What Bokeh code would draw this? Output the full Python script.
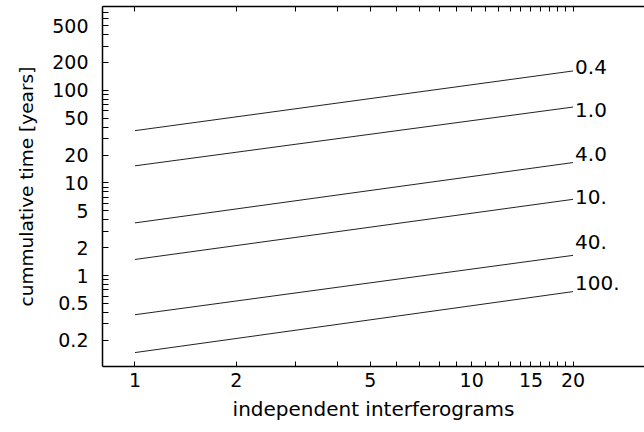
from bokeh.plotting import figure
from bokeh.models import LogAxis, FixedTicker, Range1d, LogScale, CustomLabelingPolicy
from bokeh.core.properties import value
from bokeh.embed import file_html
from bokeh.resources import INLINE

# ---- data ----
line_labels = ["0.4", "1.0", "4.0", "10.", "40.", "100."]
x_start = [1, 1, 1, 1, 1, 1]
x_end = [20, 20, 20, 20, 20, 20]
y_start = [36.7, 15.3, 3.7, 1.49, 0.377, 0.147]
y_end = [162, 66, 16.6, 6.65, 1.65, 0.67]
label_y = [178, 62, 20.6, 7.05, 2.28, 0.82]

x_ticks = [1, 2, 5, 10, 15, 20]
x_tick_labels = ["1", "2", "5", "10", "15", "20"]
x_minor = [3, 4, 6, 7, 8, 9, 11, 12, 13, 14, 16, 17, 18, 19]
y_ticks = [0.2, 0.5, 1, 2, 5, 10, 20, 50, 100, 200, 500]
y_tick_labels = ["0.2", "0.5", "1", "2", "5", "10", "20", "50", "100", "200", "500"]
y_minor = [0.3, 0.4, 0.6, 0.7, 0.8, 0.9, 3, 4, 6, 7, 8, 9, 30, 40, 60, 70, 80, 90,
           300, 400, 600, 700, 800, 900]

FONT = "DejaVu Sans"

p = figure(width=644, height=432, x_axis_type=None, y_axis_type=None,
           x_range=Range1d(0.801, 32.6), y_range=Range1d(0.104, 805),
           output_backend="svg", toolbar_location=None,
           min_border_left=102, min_border_right=0, min_border_top=6,
           min_border_bottom=66)
p.x_scale = LogScale()
p.y_scale = LogScale()
p.outline_line_color = None
p.background_fill_color = "white"
p.border_fill_color = "white"

def style_axis(ax, tick_len, fs):
    ax.axis_line_color = "black"
    ax.axis_line_width = 1.5
    ax.major_tick_in = tick_len
    ax.major_tick_out = 0
    ax.minor_tick_in = tick_len
    ax.minor_tick_out = 0
    ax.major_tick_line_color = "black"
    ax.minor_tick_line_color = "black"
    ax.major_label_text_font = FONT
    ax.major_label_text_font_size = fs
    ax.major_label_text_color = "black"
    ax.axis_label_text_font = FONT
    ax.axis_label_text_font_style = "normal"
    ax.axis_label_text_color = "black"

xb = LogAxis(ticker=FixedTicker(ticks=x_ticks, minor_ticks=x_minor),
             axis_label="independent interferograms")
style_axis(xb, 5, "19px")
xb.axis_label_text_font_size = "20px"
xb.major_label_overrides = {t: s for t, s in zip(x_ticks, x_tick_labels)}
xb.major_label_standoff = 6
xb.axis_label_standoff = 7
p.add_layout(xb, "below")

xt = LogAxis(ticker=FixedTicker(ticks=x_ticks, minor_ticks=x_minor))
style_axis(xt, 5, "1px")
xt.major_label_standoff = 0
xt.major_label_policy = CustomLabelingPolicy(code="return []")
p.add_layout(xt, "above")

yl = LogAxis(ticker=FixedTicker(ticks=y_ticks, minor_ticks=y_minor),
             axis_label="cummulative time [years]")
style_axis(yl, 6, "19px")
yl.axis_label_text_font_size = "18.5px"
yl.major_label_overrides = {t: s for t, s in zip(y_ticks, y_tick_labels)}
yl.major_label_standoff = 14
yl.axis_label_standoff = 12
p.add_layout(yl, "left")

p.xgrid.visible = False
p.ygrid.visible = False

p.segment(x0=x_start, y0=y_start, x1=x_end, y1=y_end,
          line_color="#222222", line_width=1)
p.text(x=x_end, y=label_y, text=line_labels, text_font=value(FONT),
       text_font_size="20px", text_align="left", text_baseline="middle",
       x_offset=2, text_color="black")

open("out.html", "w").write(file_html(p, INLINE))
